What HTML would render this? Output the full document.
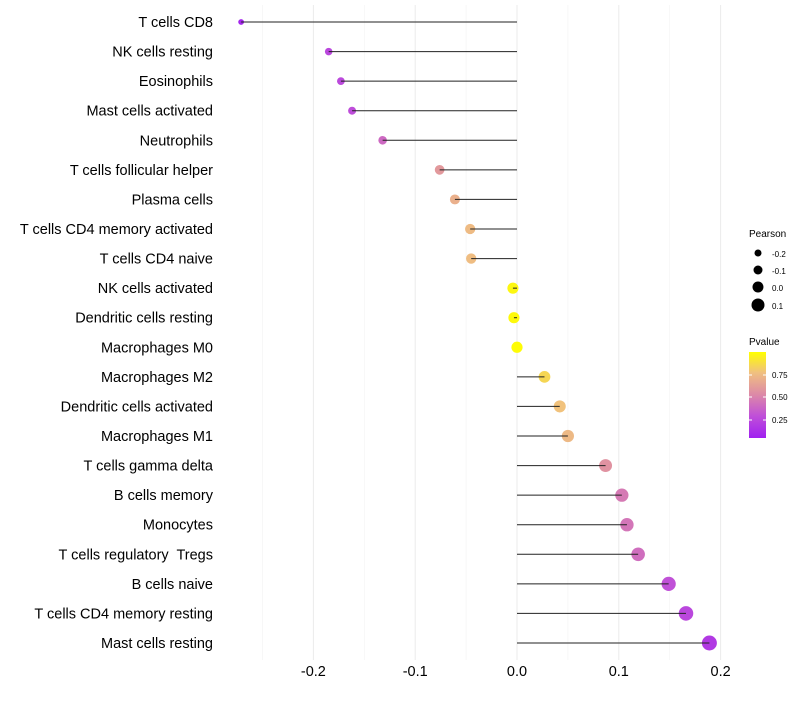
<!DOCTYPE html>
<html><head><meta charset="utf-8"><style>
body{margin:0;background:#fff;font-family:"Liberation Sans",sans-serif;}
svg text{font-family:"Liberation Sans",sans-serif;}
</style></head><body>
<svg id="chart" width="800" height="700" xmlns="http://www.w3.org/2000/svg">
<g id="grid"></g>
<g id="marks"></g>
<g id="ylabels"></g>
<g id="xlabels"></g>
<g>
<text x="749" y="237" font-size="10" fill="#000">Pearson</text>
<circle cx="758" cy="253" r="3.5" fill="#000"/><text x="772" y="257" font-size="8">-0.2</text>
<circle cx="758" cy="270" r="4.5" fill="#000"/><text x="772" y="274" font-size="8">-0.1</text>
<circle cx="758" cy="287" r="5.5" fill="#000"/><text x="772" y="291" font-size="8">0.0</text>
<circle cx="758" cy="305" r="6.5" fill="#000"/><text x="772" y="309" font-size="8">0.1</text>
</g>
<g>
<text x="749" y="345" font-size="10" fill="#000">Pvalue</text>
<defs><linearGradient id="pg" x1="0" y1="1" x2="0" y2="0">
<stop offset="0" stop-color="#a020f0"/><stop offset="0.26" stop-color="#c050d8"/><stop offset="0.5" stop-color="#dc88a8"/><stop offset="0.76" stop-color="#f0c080"/><stop offset="1" stop-color="#ffff00"/>
</linearGradient></defs>
<rect x="749" y="352" width="17" height="86" fill="url(#pg)"/>
<line x1="749" x2="752" y1="375" y2="375" stroke="#fff"/><line x1="763" x2="766" y1="375" y2="375" stroke="#fff"/>
<line x1="749" x2="752" y1="397" y2="397" stroke="#fff"/><line x1="763" x2="766" y1="397" y2="397" stroke="#fff"/>
<line x1="749" x2="752" y1="420" y2="420" stroke="#fff"/><line x1="763" x2="766" y1="420" y2="420" stroke="#fff"/>
<text x="772" y="378" font-size="8">0.75</text>
<text x="772" y="400" font-size="8">0.50</text>
<text x="772" y="423" font-size="8">0.25</text>
</g>
</svg>
<script>
const categories=["T cells CD8","NK cells resting","Eosinophils","Mast cells activated","Neutrophils","T cells follicular helper","Plasma cells","T cells CD4 memory activated","T cells CD4 naive","NK cells activated","Dendritic cells resting","Macrophages M0","Macrophages M2","Dendritic cells activated","Macrophages M1","T cells gamma delta","B cells memory","Monocytes","T cells regulatory  Tregs","B cells naive","T cells CD4 memory resting","Mast cells resting"];
const pearson=[-0.271,-0.185,-0.173,-0.162,-0.132,-0.076,-0.061,-0.046,-0.045,-0.004,-0.003,0.0,0.027,0.042,0.05,0.087,0.103,0.108,0.119,0.149,0.166,0.189];
const pvalues=[0.08,0.25,0.26,0.28,0.4,0.6,0.7,0.75,0.76,0.97,0.98,0.99,0.85,0.78,0.74,0.57,0.47,0.45,0.42,0.3,0.25,0.18];
const xTicks=[-0.2,-0.1,0.0,0.1,0.2];
const xTickLabels=["-0.2","-0.1","0.0","0.1","0.2"];
const xMinor=[-0.25,-0.15,-0.05,0.05,0.15];
const NS="http://www.w3.org/2000/svg";
const xs=v=>517+v*1018;
const ys=i=>22+i*(621/21);
const stops=[[0,[160,32,240]],[0.26,[192,80,216]],[0.5,[220,136,168]],[0.76,[240,192,128]],[1,[255,255,0]]];
function col(p){const t=Math.max(0,Math.min(1,(p-0.05)/0.95));for(let k=1;k<stops.length;k++){if(t<=stops[k][0]){const a=stops[k-1],b=stops[k],f=(t-a[0])/(b[0]-a[0]);return "rgb("+a[1].map((c,j)=>Math.round(c+(b[1][j]-c)*f)).join(",")+")";}}return "rgb(255,255,0)";}
function mk(t,a,p){const e=document.createElementNS(NS,t);for(const k in a)e.setAttribute(k,a[k]);p.appendChild(e);return e;}
const grid=document.getElementById('grid'),marks=document.getElementById('marks'),yl=document.getElementById('ylabels'),xl=document.getElementById('xlabels');
xMinor.forEach(v=>{const l=mk('line',{x1:xs(v),x2:xs(v),y1:5,y2:660,stroke:'#f2f2f2','stroke-width':0.6},grid);});
xTicks.forEach((v,i)=>{const l=mk('line',{x1:xs(v),x2:xs(v),y1:5,y2:660,stroke:'#ebebeb','stroke-width':1},grid);
const t=mk('text',{x:xs(v),y:676,'font-size':14.5,'text-anchor':'middle',fill:'#000'},xl);t.textContent=xTickLabels[i];});
categories.forEach((c,i)=>{const y=ys(i);
const t=mk('text',{x:213,y:y+5,'font-size':14.5,'text-anchor':'end',fill:'#000'},yl);t.setAttribute('xml:space','preserve');t.style.whiteSpace='pre';t.textContent=c;
const r=Math.max(1.6,5.6+pearson[i]*10);
const d=mk('circle',{cx:xs(pearson[i]),cy:y,r:r,fill:col(pvalues[i])},marks);
const l=mk('line',{x1:xs(0),x2:xs(pearson[i]),y1:y,y2:y,stroke:'#222','stroke-width':1},marks);});
</script>
</body></html>
